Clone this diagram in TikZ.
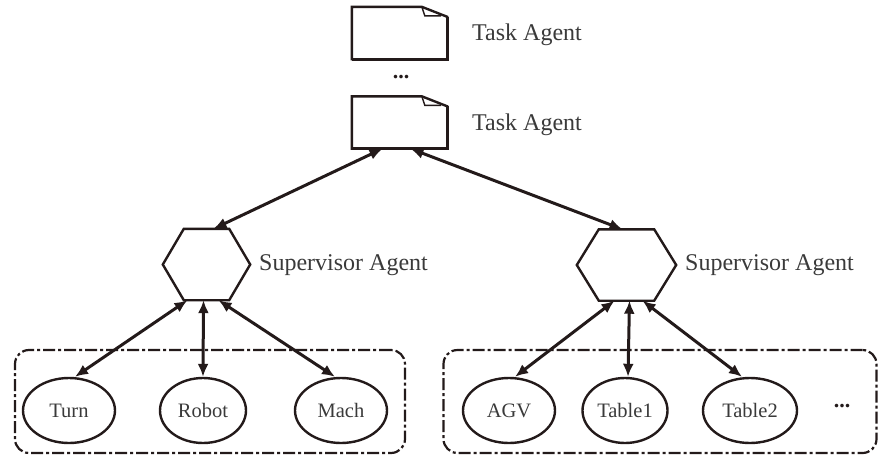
\documentclass[tikz,border=0pt]{standalone}
\usepackage{fontspec}
\setmainfont{Liberation Serif}
\usetikzlibrary{shapes.geometric,arrows.meta,calc}
\definecolor{ink}{HTML}{231A1A}
\definecolor{txt}{HTML}{3A3A3A}
% flat-topped hexagon drawn on the frame of an empty node: #1 node, #2 inset of the top corners
\newcommand\hexoutline[2]{%
  \draw[line] ($(#1.north west)+(#2,0)$) -- ($(#1.north east)+(-#2,0)$) -- (#1.east)
    -- ($(#1.south east)+(-#2,0)$) -- ($(#1.south west)+(#2,0)$) -- (#1.west) -- cycle;}
% document outline with a folded corner on the frame of an empty node
\newcommand\docoutline[1]{%
  \draw[line] (#1.north west) -- ++(70,0) -- ($(#1.north east)+(0,10)$) -- (#1.south east)
    -- (#1.south west) -- cycle;
  \draw[line,line width=3.2pt] ($(#1.north east)+(0,10)$) -- (#1.south east) -- (#1.south west);
  \draw[line,line width=1.4pt] ($(#1.north west)+(70,0)$) -- ++(3,9) -- ($(#1.north east)+(-6,9)$);}
\begin{document}
\begin{tikzpicture}[x=1pt,y=-1pt,
  line/.style={draw=ink,line width=2.4pt,line join=miter},
  link/.style={draw=ink,line width=3pt,{Latex[length=13pt,width=11pt]}-{Latex[length=13pt,width=11pt]}},
  label/.style={text=txt,font=\fontsize{24}{28}\selectfont,anchor=west,inner sep=0pt},
  dots/.style={text=ink,font=\bfseries\fontsize{22}{26}\selectfont,inner sep=0pt},
  unit/.style={ellipse,draw=ink,line width=2.4pt,minimum width=90pt,minimum height=65pt,
    inner sep=0pt,text=txt,font=\fontsize{20.5}{24}\selectfont},
  group/.style={draw=ink,line width=2.2pt,rounded corners=14pt,
    dash pattern=on 12pt off 3pt on 3pt off 3pt,inner sep=0pt},
  frame/.style={minimum width=95pt,minimum height=52pt,inner sep=0pt},
  hexframe/.style={minimum height=71pt,inner sep=0pt}
]
\useasboundingbox (0,0) rectangle (878,463);

% task agents
\node[frame] (task1) at (399.5,33) {};
\docoutline{task1}
\node[label] (tl1) at (472,35) {Task Agent};
\node[dots] (vdots) at (401,77) {...};
\node[frame] (task2) at (399.5,122.5) {};
\docoutline{task2}
\node[label] (tl2) at (472,125) {Task Agent};

% supervisor agents
\node[hexframe,minimum width=87pt] (sup1) at (206.5,264.5) {};
\hexoutline{sup1}{21}
\node[label] (sl1) at (259,265) {Supervisor Agent};
\node[hexframe,minimum width=99pt] (sup2) at (626.5,265) {};
\hexoutline{sup2}{22}
\node[label] (sl2) at (685,265) {Supervisor Agent};

% resource groups
\node[group,minimum width=390pt,minimum height=103pt] (box1) at (210,401.5) {};
\node[group,minimum width=433pt,minimum height=103pt] (box2) at (660,401.5) {};

\node[unit,minimum width=92pt] (turn) at (69,410.5) {Turn};
\node[unit,minimum width=86pt] (robot) at (203,410.5) {Robot};
\node[unit,minimum width=92pt] (mach) at (341,410.5) {Mach};
\node[unit,minimum width=92pt] (agv) at (509,410.5) {AGV};
\node[unit,minimum width=85pt] (table1) at (625,410.5) {Table1};
\node[unit,minimum width=94pt] (table2) at (750,410.5) {Table2};
\node[dots] (hdots) at (842,406) {...};

% connections
\draw[link] ($(task2.south)+(-17,0)$) -- ($(sup1.north)+(7,0)$);
\draw[link] ($(task2.south)+(11,0)$) -- ($(sup2.north)+(-4,0)$);

\draw[link] ($(sup1.south)+(-19,0)$) -- ($(turn.north)+(6,0)$);
\draw[link] ($(sup1.south)+(-3,0)$) -- (robot.north);
\draw[link] ($(sup1.south)+(12,0)$) -- ($(mach.north)+(-6,0)$);

\draw[link] ($(sup2.south)+(-12,0)$) -- ($(agv.north)+(6,0)$);
\draw[link] ($(sup2.south)+(3,0)$) -- ($(table1.north)+(3,0)$);
\draw[link] ($(sup2.south)+(16,0)$) -- ($(table2.north)+(-8,0)$);
\end{tikzpicture}
\end{document}
